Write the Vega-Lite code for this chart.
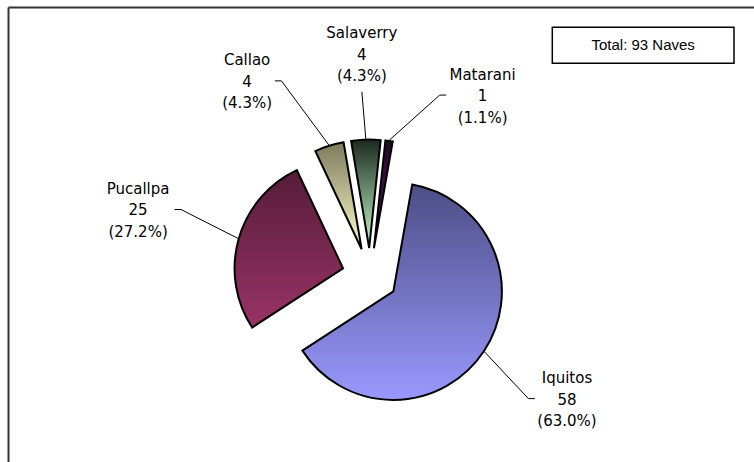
{
  "$schema": "https://vega.github.io/schema/vega-lite/v6.json",
  "width": 746,
  "height": 455,
  "autosize": {"type": "none"},
  "padding": {"left": 8, "top": 7, "right": 0, "bottom": 0},
  "background": "white",
  "config": {
    "view": {"stroke": null},
    "axis": {"domain": true, "domainColor": "#333333", "domainWidth": 2, "ticks": false, "labels": false, "grid": false}
  },
  "data": {
    "values": [
      {"puerto": "Iquitos", "naves": 58},
      {"puerto": "Pucallpa", "naves": 25},
      {"puerto": "Callao", "naves": 4},
      {"puerto": "Salaverry", "naves": 4},
      {"puerto": "Matarani", "naves": 1}
    ]
  },
  "transform": [
    {"window": [{"op": "row_number", "as": "orden"}]},
    {"joinaggregate": [{"op": "sum", "field": "naves", "as": "total"}]},
    {"stack": "naves", "groupby": [], "sort": [{"field": "orden", "order": "ascending"}], "as": ["c0", "c1"]},
    {"calculate": "PI/18 + 2*PI*datum.c0/datum.total", "as": "a0"},
    {"calculate": "PI/18 + 2*PI*datum.c1/datum.total", "as": "a1"},
    {"calculate": "(datum.a0 + datum.a1)/2", "as": "mid"},
    {"calculate": "28*sin(datum.mid)", "as": "ex"},
    {"calculate": "28*cos(datum.mid)", "as": "ey"},
    {"calculate": "137*sin(datum.mid)", "as": "sx"},
    {"calculate": "137*cos(datum.mid)", "as": "sy"},
    {"calculate": "'(' + format(datum.naves/datum.total, '.1%') + ')'", "as": "pct"},
    {"calculate": "datum.puerto + '\\n' + datum.naves + '\\n' + datum.pct", "as": "etiqueta"},
    {"calculate": "PI/180*(datum.puerto==='Iquitos'?121.9:datum.puerto==='Pucallpa'?286:datum.puerto==='Callao'?327.8:datum.puerto==='Salaverry'?357.9:31.9)", "as": "la"},
    {"calculate": "datum.puerto==='Iquitos'?232:datum.puerto==='Pucallpa'?241.3:datum.puerto==='Callao'?230.6:datum.puerto==='Salaverry'?222.4:213.1", "as": "lr"},
    {"calculate": "datum.lr*sin(datum.la)", "as": "lx"},
    {"calculate": "datum.lr*cos(datum.la)", "as": "ly"},
    {"calculate": "datum.lx > 30 ? 1 : (datum.lx < -30 ? -1 : 0)", "as": "lado"},
    {"calculate": "4.3*max(length(datum.puerto), length(datum.pct)) + 2", "as": "semi"},
    {"calculate": "datum.lado === 0 ? datum.lx : datum.lx - datum.lado*(datum.semi + 6.5)", "as": "bx"},
    {"calculate": "datum.lado === 0 ? datum.ly - 38 : datum.ly", "as": "by"},
    {"calculate": "datum.lado === 0 ? datum.bx : datum.lx - datum.lado*datum.semi", "as": "cx"},
    {"calculate": "datum.by", "as": "cy"}
  ],
  "layer": [
    {
      "mark": {"type": "arc", "outerRadius": 108.5, "stroke": "#000000", "strokeWidth": 2},
      "encoding": {
        "x": {"field": "ex", "type": "quantitative", "axis": {"orient": "top", "title": null}, "scale": {"domain": [-362, 384], "nice": false, "zero": false}},
        "y": {"field": "ey", "type": "quantitative", "axis": {"orient": "left", "title": null}, "scale": {"domain": [-186, 269], "nice": false, "zero": false}},
        "theta": {"field": "a0", "type": "quantitative", "scale": null},
        "theta2": {"field": "a1"},
        "fill": {
          "condition": [
            {"test": "datum.puerto === 'Iquitos'", "value": {"gradient": "linear", "x1": 0, "y1": 0, "x2": 0, "y2": 1, "stops": [{"offset": 0, "color": "#4D4D85"}, {"offset": 1, "color": "#9999FF"}]}},
            {"test": "datum.puerto === 'Pucallpa'", "value": {"gradient": "linear", "x1": 0, "y1": 0, "x2": 0, "y2": 1, "stops": [{"offset": 0, "color": "#561C39"}, {"offset": 1, "color": "#993366"}]}},
            {"test": "datum.puerto === 'Callao'", "value": {"gradient": "linear", "x1": 0, "y1": 0, "x2": 0, "y2": 1, "stops": [{"offset": 0, "color": "#7D7A5C"}, {"offset": 1, "color": "#FFFFCC"}]}},
            {"test": "datum.puerto === 'Salaverry'", "value": {"gradient": "linear", "x1": 0, "y1": 0, "x2": 0, "y2": 1, "stops": [{"offset": 0, "color": "#1C2A20"}, {"offset": 1, "color": "#C6FACB"}]}}
          ],
          "value": {"gradient": "linear", "x1": 0, "y1": 0, "x2": 0, "y2": 1, "stops": [{"offset": 0, "color": "#200A22"}, {"offset": 1, "color": "#6A1070"}]}
        }
      }
    },
    {
      "mark": {"type": "rule", "color": "#000000", "strokeWidth": 1},
      "encoding": {
        "x": {"field": "sx", "type": "quantitative", "axis": {"orient": "top", "title": null}},
        "y": {"field": "sy", "type": "quantitative", "axis": {"orient": "left", "title": null}},
        "x2": {"field": "bx"},
        "y2": {"field": "by"}
      }
    },
    {
      "mark": {"type": "rule", "color": "#000000", "strokeWidth": 1},
      "encoding": {
        "x": {"field": "bx", "type": "quantitative", "axis": {"orient": "top", "title": null}},
        "y": {"field": "by", "type": "quantitative", "axis": {"orient": "left", "title": null}},
        "x2": {"field": "cx"},
        "y2": {"field": "cy"}
      }
    },
    {
      "mark": {"type": "text", "font": "DejaVu Sans", "fontSize": 15, "lineBreak": "\n", "lineHeight": 21.5, "align": "center", "baseline": "middle", "color": "#000000", "dy": -20.5},
      "encoding": {
        "x": {"field": "lx", "type": "quantitative", "axis": {"orient": "top", "title": null}},
        "y": {"field": "ly", "type": "quantitative", "axis": {"orient": "left", "title": null}},
        "text": {"field": "etiqueta"}
      }
    },
    {
      "transform": [{"aggregate": [{"op": "count", "as": "n"}]}],
      "layer": [
        {
          "mark": {"type": "rect", "fill": "white", "stroke": "#000000", "strokeWidth": 1.5},
          "encoding": {
            "x": {"datum": 182.3, "type": "quantitative", "axis": {"orient": "top", "title": null}},
            "x2": {"datum": 364},
            "y": {"datum": 212.7, "type": "quantitative", "axis": {"orient": "left", "title": null}},
            "y2": {"datum": 248.7}
          }
        },
        {
          "mark": {"type": "text", "font": "Liberation Sans", "fontSize": 15, "align": "center", "baseline": "middle", "color": "#000000"},
          "encoding": {
            "x": {"datum": 273.15, "type": "quantitative", "axis": {"orient": "top", "title": null}},
            "y": {"datum": 230.6, "type": "quantitative", "axis": {"orient": "left", "title": null}},
            "text": {"value": "Total: 93 Naves"}
          }
        }
      ]
    }
  ]
}
